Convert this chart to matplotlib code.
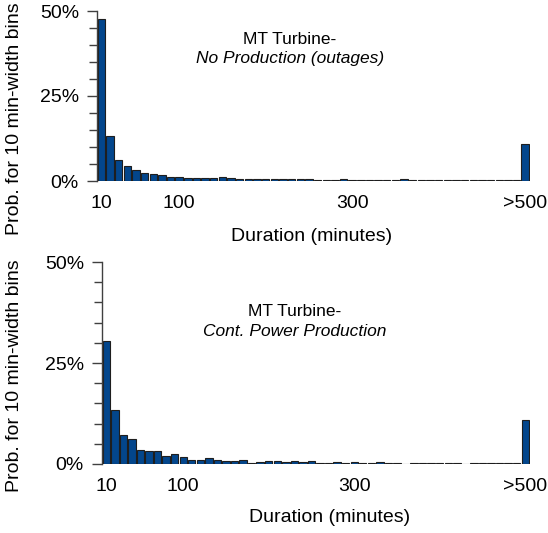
import numpy as np
import matplotlib
matplotlib.use('Agg')
import matplotlib.pyplot as plt
from matplotlib.ticker import MultipleLocator, FuncFormatter

plt.rcParams['font.family'] = ['Liberation Sans', 'DejaVu Sans']

# duration bins (10 min wide), last one is the overflow bin
bins = [str(b) for b in range(10, 500, 10)] + ['>500']
shown_ticks = ['10', '100', '300', '>500']

# probability (%) per bin
outages = [47.6, 13.3, 6.3, 4.4, 3.2, 2.4, 2.1, 1.7, 1.3, 1.3,
           0.9, 0.9, 0.9, 0.9, 1.1, 0.8, 0.6, 0.5, 0.5, 0.5,
           0.5, 0.5, 0.5, 0.5, 0.5, 0.4, 0.4, 0.4, 0.5, 0.4,
           0.3, 0.3, 0.3, 0.3, 0.3, 0.6, 0.3, 0.3, 0.3, 0.3,
           0.3, 0.2, 0.2, 0.2, 0.2, 0.2, 0.2, 0.2, 0.2, 10.9]
production = [30.4, 13.4, 7.2, 6.2, 3.4, 3.3, 3.1, 2.1, 2.4, 1.7,
              0.9, 0.9, 1.5, 0.9, 0.8, 0.8, 0.9, 0.3, 0.4, 0.65,
              0.65, 0.4, 0.65, 0.4, 0.75, 0.15, 0.15, 0.4, 0.25, 0.4,
              0.3, 0.2, 0.4, 0.3, 0.2, 0.0, 0.2, 0.2, 0.2, 0.2,
              0.2, 0.2, 0.0, 0.3, 0.2, 0.2, 0.3, 0.2, 0.2, 10.9]

W, H = 548, 533
fig = plt.figure(figsize=(W / 100, H / 100), dpi=100)


def px_axes(x0, x1, ytop, ybot):
    return fig.add_axes([x0 / W, 1 - ybot / H, (x1 - x0) / W, (ybot - ytop) / H])


def draw(ax, vals, label_pos):
    x = np.arange(len(bins))
    ax.bar(x, vals, width=0.86, color='#03468c', edgecolor='#1e1e1e', linewidth=0.8)
    ax.set_xlim(-0.5, len(bins) - 0.5)
    ax.set_ylim(0, 50)
    for s in ['top', 'right', 'bottom']:
        ax.spines[s].set_visible(False)
    ax.spines['left'].set_color('#404040')
    ax.spines['left'].set_linewidth(1.0)
    ax.yaxis.set_major_locator(MultipleLocator(25))
    ax.yaxis.set_minor_locator(MultipleLocator(5))
    ax.yaxis.set_major_formatter(FuncFormatter(lambda v, p: f'{v:.0f}%'))
    ax.tick_params(axis='y', which='major', length=7, width=1, color='#404040',
                   labelsize=14, pad=6)
    ax.tick_params(axis='y', which='minor', length=5.5, width=1, color='#404040')
    ax.set_xticks([bins.index(t) for t in shown_ticks])
    ax.set_xticklabels(shown_ticks)
    ax.tick_params(axis='x', length=0, labelsize=14, pad=10)
    ax.set_xlabel('Duration (minutes)', fontsize=14)
    ax.xaxis.set_label_coords(*label_pos)


ax_top = px_axes(97, 529.5, 11, 181)
draw(ax_top, outages, (0.495, -0.275))

ax_bot = px_axes(102, 529.5, 262, 464)
draw(ax_bot, production, (0.533, -0.225))

# annotations
fig.text(290 / W, 1 - 39 / H, 'MT Turbine-', fontsize=12.5, ha='center', va='center')
fig.text(290 / W, 1 - 59 / H, 'No Production (outages)', fontsize=12.5,
         style='italic', ha='center', va='center')
fig.text(295 / W, 1 - 311 / H, 'MT Turbine-', fontsize=12.5, ha='center', va='center')
fig.text(295 / W, 1 - 331 / H, 'Cont. Power Production', fontsize=12.5,
         style='italic', ha='center', va='center')

# y labels
fig.text(15 / W, 1 - 119 / H, 'Prob. for 10 min-width bins', fontsize=14,
         rotation=90, ha='center', va='center')
fig.text(15 / W, 1 - 376 / H, 'Prob. for 10 min-width bins', fontsize=14,
         rotation=90, ha='center', va='center')

fig.savefig('out.png', dpi=100)
